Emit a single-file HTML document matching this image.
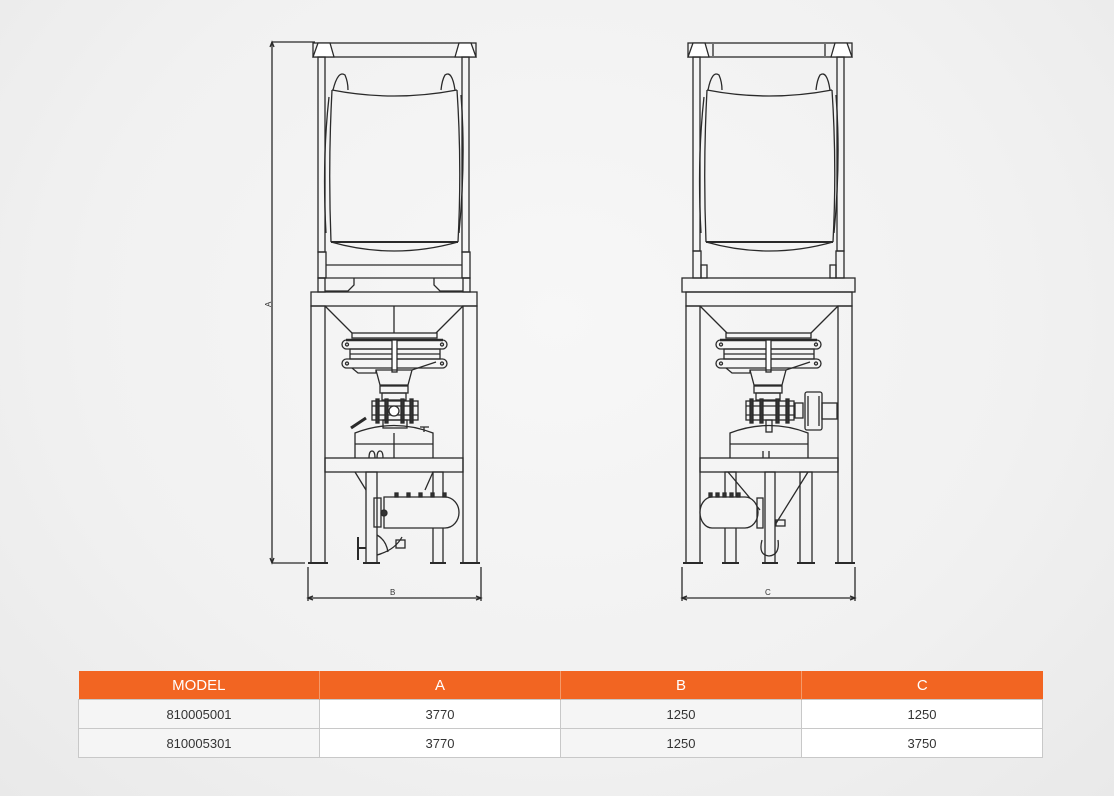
<!DOCTYPE html>
<html><head><meta charset="utf-8"><style>
html,body{margin:0;padding:0}
body{width:1114px;height:796px;overflow:hidden;position:relative;font-family:"Liberation Sans",sans-serif;
background:radial-gradient(ellipse at 50% 40%,#f7f7f7 0%,#f1f1f1 60%,#e9e9e9 100%);}
svg{position:absolute;left:0;top:0}
table{position:absolute;left:78px;top:671px;width:964px;border-collapse:collapse;table-layout:fixed;font-size:13px;color:#333}
td,th{height:28px;padding:0;text-align:center;border:1px solid #c8c8c8}
th{background:#f26522;color:#fff;font-weight:normal;font-size:15px;height:28px;border:none;border-right:1px solid #f59a6a}
td.w{background:#fff}
td.g{background:#f5f5f5}
</style></head><body>
<svg width="1114" height="660" viewBox="0 0 1114 660" fill="none" stroke="#2a2a2a" stroke-width="1.3">
<defs>
<g id="valve">
<rect x="352" y="333" width="85" height="5"/>
<line x1="346" y1="340" x2="443" y2="340" stroke-width="2.5"/>
<rect x="342" y="340" width="105" height="9" rx="4.5"/>
<rect x="342" y="359" width="105" height="9" rx="4.5"/>
<circle cx="347" cy="344.5" r="1.5"/><circle cx="442" cy="344.5" r="1.5"/>
<circle cx="347" cy="363.5" r="1.5"/><circle cx="442" cy="363.5" r="1.5"/>
<rect x="350" y="349" width="90" height="10"/>
<line x1="350" y1="354" x2="440" y2="354"/>
<rect x="392" y="340" width="5" height="32" fill="#fff"/>
<path d="M352 368 L358 373 L376 373 L376 370 L412 370 L436 362"/>
<path d="M376 370 L380 385 L408 385 L412 370"/>
<rect x="380" y="386" width="28" height="7"/>
</g>
</defs>

<line x1="272" y1="42" x2="272" y2="563"/>
<line x1="272" y1="42" x2="315" y2="42"/>
<line x1="272" y1="563" x2="305" y2="563"/>
<path d="M270 47 L272 42 L274 47 M270 558 L272 563 L274 558"/>
<text x="0" y="0" transform="translate(271,307) rotate(-90)" font-size="8" fill="#333" stroke="none" font-family="Liberation Sans">A</text>
<rect x="313" y="43" width="163" height="14"/>
<path d="M313 57 L318 43 L330 43 L334 57 Z" fill="#fff"/>
<path d="M455 57 L459 43 L471 43 L476 57 Z" fill="#fff"/>
<rect x="318" y="57" width="7" height="195"/>
<rect x="462" y="57" width="7" height="195"/>
<path d="M332 90 Q394 102 457 90"/>
<path d="M332 90 Q328 165 331 242 M457 90 Q462 165 458 242"/>
<path d="M331 242 L458 242" stroke-width="2"/>
<path d="M331 242 Q394 260 458 242"/>
<path d="M333 90 Q338 70 345 75 Q348 82 348 90"/>
<path d="M441 90 Q442 80 445 75 Q452 70 455 90"/>
<path d="M329 97 Q322 160 326 233 M461 95 Q466 160 459 233"/>
<rect x="318" y="252" width="8" height="26"/>
<rect x="462" y="252" width="8" height="26"/>
<line x1="326" y1="265" x2="462" y2="265"/>
<line x1="318" y1="278" x2="470" y2="278"/>
<rect x="318" y="278" width="7" height="14"/>
<rect x="463" y="278" width="7" height="14"/>
<path d="M325 291 L348 291 L354 285 L354 278"/>
<path d="M463 291 L440 291 L434 285 L434 278"/>
<rect x="311" y="292" width="166" height="14"/>
<rect x="311" y="306" width="14" height="257"/>
<rect x="463" y="306" width="14" height="257"/>
<line x1="308" y1="563" x2="328" y2="563" stroke-width="2"/>
<line x1="460" y1="563" x2="480" y2="563" stroke-width="2"/>
<path d="M325 306 L352 333 M463 306 L436 333 M394 306 L394 333"/>
<use href="#valve"/>
<rect x="382" y="393" width="24" height="7"/>
<rect x="372" y="401" width="46" height="19"/>
<line x1="372" y1="406" x2="418" y2="406"/><line x1="372" y1="415" x2="418" y2="415"/>
<g fill="#333"><rect x="376" y="399" width="3" height="24"/><rect x="385" y="399" width="3" height="24"/><rect x="401" y="399" width="3" height="24"/><rect x="410" y="399" width="3" height="24"/></g>
<circle cx="394" cy="411" r="5" fill="#fff"/>
<rect x="383" y="420" width="24" height="8"/>
<path d="M355 458 L355 433 Q394 418 433 433 L433 458"/>
<line x1="394" y1="433" x2="394" y2="458"/>
<line x1="355" y1="444" x2="433" y2="444"/>
<path d="M351 428 L366 418" stroke-width="3"/>
<path d="M424 432 L424 427 M420 427 L429 427"/>
<path d="M369 458 Q369 451 372 451 Q375 451 375 458 M377 458 Q377 451 380 451 Q383 451 383 458"/>
<rect x="325" y="458" width="138" height="14"/>
<path d="M355 472 L366 490 M433 472 L425 490"/>
<rect x="366" y="472" width="11" height="91"/>
<rect x="433" y="472" width="10" height="91"/>
<line x1="363" y1="563" x2="380" y2="563" stroke-width="2"/>
<line x1="430" y1="563" x2="446" y2="563" stroke-width="2"/>
<path d="M384 497 L445 497 A14 15.5 0 0 1 445 528 L384 528 Z" fill="#f4f4f4"/>
<rect x="374" y="498" width="7" height="29"/>
<circle cx="384" cy="513" r="3" fill="#333"/>
<g fill="#333"><rect x="395" y="493" width="3" height="4"/><rect x="407" y="493" width="3" height="4"/><rect x="419" y="493" width="3" height="4"/><rect x="431" y="493" width="3" height="4"/><rect x="443" y="493" width="3" height="4"/></g>
<path d="M377 535 Q386 540 388 552 M377 555 Q395 550 402 537"/>
<rect x="396" y="540" width="9" height="8"/>
<path d="M358 537 L358 560 M358 548 L366 548" stroke-width="2"/>
<path d="M308 567 L308 601 M481 567 L481 601 M308 598 L481 598"/>
<path d="M313 596 L308 598 L313 600 M476 596 L481 598 L476 600"/>
<text x="390" y="595" font-size="8" fill="#333" stroke="none">B</text>

<rect x="688" y="43" width="164" height="14"/>
<path d="M688 57 L693 43 L705 43 L709 57 Z" fill="#fff"/>
<path d="M831 57 L835 43 L847 43 L852 57 Z" fill="#fff"/>
<line x1="713" y1="44" x2="713" y2="56"/><line x1="825" y1="44" x2="825" y2="56"/>
<rect x="693" y="57" width="7" height="194"/>
<rect x="837" y="57" width="7" height="194"/>
<path d="M707 90 Q769 102 832 90"/>
<path d="M707 90 Q703 165 706 242 M832 90 Q837 165 833 242"/>
<path d="M706 242 L833 242" stroke-width="2"/>
<path d="M706 242 Q769 260 833 242"/>
<path d="M708 90 Q712 70 719 75 Q722 82 722 90"/>
<path d="M816 90 Q817 80 820 75 Q827 70 830 90"/>
<path d="M704 97 Q697 160 701 233 M836 95 Q841 160 834 233"/>
<rect x="693" y="251" width="8" height="27"/>
<rect x="836" y="251" width="8" height="27"/>
<rect x="701" y="265" width="6" height="13"/>
<rect x="830" y="265" width="6" height="13"/>
<rect x="682" y="278" width="173" height="14"/>
<rect x="686" y="292" width="166" height="14"/>
<rect x="686" y="306" width="14" height="257"/>
<rect x="838" y="306" width="14" height="257"/>
<line x1="683" y1="563" x2="703" y2="563" stroke-width="2"/>
<line x1="835" y1="563" x2="855" y2="563" stroke-width="2"/>
<path d="M700 306 L727 333 M838 306 L811 333"/>
<use href="#valve" transform="translate(374,0)"/>
<rect x="756" y="393" width="24" height="7"/>
<rect x="746" y="401" width="48" height="19"/>
<line x1="746" y1="406" x2="794" y2="406"/><line x1="746" y1="415" x2="794" y2="415"/>
<g fill="#333"><rect x="750" y="399" width="3" height="24"/><rect x="760" y="399" width="3" height="24"/><rect x="776" y="399" width="3" height="24"/><rect x="786" y="399" width="3" height="24"/></g>
<rect x="795" y="403" width="8" height="15"/>
<rect x="805" y="392" width="17" height="38" rx="2"/>
<line x1="808" y1="396" x2="808" y2="426"/><line x1="819" y1="396" x2="819" y2="426"/>
<rect x="822" y="403" width="15" height="16"/>
<rect x="766" y="420" width="6" height="12"/>
<path d="M730 458 L730 433 Q769 418 808 433 L808 458"/>
<line x1="730" y1="444" x2="808" y2="444"/>
<path d="M763 458 L763 451 M769 458 L769 451"/>
<rect x="700" y="458" width="138" height="14"/>
<path d="M728 472 L760 510 M808 472 L775 525"/>
<rect x="725" y="472" width="11" height="91"/>
<rect x="765" y="472" width="10" height="91"/>
<rect x="800" y="472" width="12" height="91"/>
<line x1="722" y1="563" x2="739" y2="563" stroke-width="2"/>
<line x1="762" y1="563" x2="778" y2="563" stroke-width="2"/>
<line x1="797" y1="563" x2="815" y2="563" stroke-width="2"/>
<path d="M712 497 L745 497 A13 15.5 0 0 1 745 528 L712 528 A12 15.5 0 0 1 712 497 Z" fill="#f4f4f4"/>
<rect x="757" y="498" width="6" height="30"/>
<g fill="#333"><rect x="709" y="493" width="3" height="4"/><rect x="716" y="493" width="3" height="4"/><rect x="723" y="493" width="3" height="4"/><rect x="730" y="493" width="3" height="4"/><rect x="737" y="493" width="3" height="4"/></g>
<rect x="776" y="520" width="9" height="6"/>
<path d="M762 540 Q758 555 769 556 Q780 555 778 540"/>
<path d="M682 567 L682 601 M855 567 L855 601 M682 598 L855 598"/>
<path d="M687 596 L682 598 L687 600 M850 596 L855 598 L850 600"/>
<text x="765" y="595" font-size="8" fill="#333" stroke="none">C</text>
</svg>

<table>
<colgroup><col style="width:241px"><col style="width:241px"><col style="width:241px"><col style="width:241px"></colgroup>
<tr><th>MODEL</th><th>A</th><th>B</th><th style="border-right:none">C</th></tr>
<tr><td class="g">810005001</td><td class="w">3770</td><td class="g">1250</td><td class="w">1250</td></tr>
<tr><td class="g">810005301</td><td class="w">3770</td><td class="g">1250</td><td class="w">3750</td></tr>
</table>
</body></html>
